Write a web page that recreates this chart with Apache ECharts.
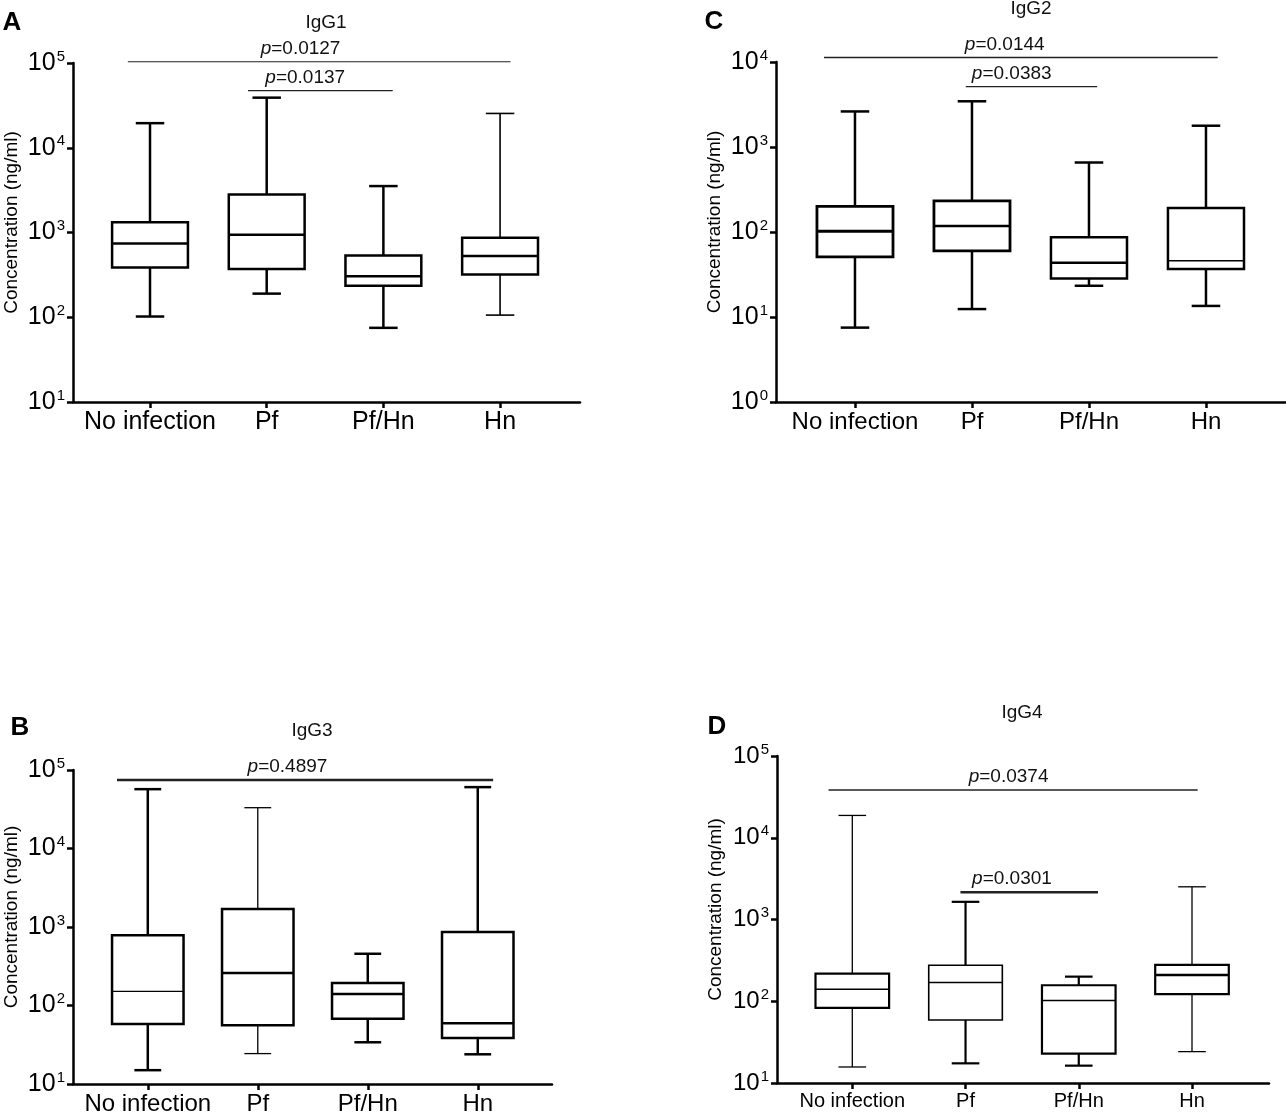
<!DOCTYPE html>
<html>
<head>
<meta charset="utf-8">
<script src="https://cdn.jsdelivr.net/npm/echarts@6/dist/echarts.min.js"></script>
<style>
  html, body { margin: 0; padding: 0; background: #fff; }
  #chart { width: 1286px; height: 1116px; }
</style>
</head>
<body>
<div id="chart"></div>
<script>
var categories = ['No infection', 'Pf', 'Pf/Hn', 'Hn'];
var catTicks = [0, 1, 2, 3];

// one row per group: [min, Q1, median, Q3, max]
var igg1Box = [
  [102, 386, 740, 1320, 19500],
  [190, 370, 940, 2800, 39000],
  [75, 236, 305, 537, 3530],
  [106, 319, 527, 865, 25400]
];
var igg2Box = [
  [7.5, 51, 102, 200, 2620],
  [12.4, 60, 118, 232, 3450],
  [23.3, 28.4, 43.6, 87, 657],
  [13.5, 36.7, 46, 191, 1780]
];
var igg3Box = [
  [15, 58, 151, 785, 57000],
  [24.4, 56, 260, 1690, 33100],
  [34, 68, 140, 194, 456],
  [23.9, 38.5, 59.6, 865, 60500]
];
var igg4Box = [
  [15.7, 82.8, 140, 218, 18750],
  [17.4, 59, 169, 276, 1645],
  [16.3, 22.9, 102, 157, 200],
  [24.2, 122, 210, 279, 2512]
];

// significance brackets: [from group, to group, height (ng/ml), label centre]
var igg1Sig = [[-0.19, 3.09, 103500, 1.29], [0.84, 2.08, 47100, 1.33]];
var igg1P = ['0.0127', '0.0137'];
var igg2Sig = [[-0.265, 3.1, 11300, 1.28], [0.947, 2.07, 5120, 1.34]];
var igg2P = ['0.0144', '0.0383'];
var igg3Sig = [[-0.28, 3.14, 74800, 1.27]];
var igg3P = ['0.4897'];
var igg4Sig = [[-0.21, 3.05, 38400, 1.38], [0.955, 2.17, 2160, 1.41]];
var igg4P = ['0.0374', '0.0301'];

var FONT = '"Liberation Sans", Arial, Helvetica, sans-serif';

// line widths: [box, median, whiskers]
var panels = [
  { title: 'IgG1', letter: 'A', box: igg1Box, sig: igg1Sig, p: igg1P,
    yMin: 10, yMax: 1e5, grid: { left: 73, top: 63, width: 507, height: 339 },
    xMin: -0.66, xMax: 3.685, catSize: 25, tickSize: 25,
    titlePos: [326, 23], letterPos: [12, 23],
    widths: [[2.5, 2.5, 2.5], [2.5, 2.5, 2.5], [2.5, 2.5, 2.5], [2.5, 2.5, 1.6]],
    sigWidths: [1.2, 1.2] },
  { title: 'IgG2', letter: 'C', box: igg2Box, sig: igg2Sig, p: igg2P,
    yMin: 1, yMax: 1e4, grid: { left: 776, top: 62, width: 510, height: 340 },
    xMin: -0.675, xMax: 3.684, catSize: 24, tickSize: 25,
    titlePos: [1031, 9], letterPos: [714, 22],
    widths: [[2.8, 2.8, 2.5], [2.8, 2.5, 2.5], [2.5, 2.5, 2.5], [2.5, 1.5, 2.5]],
    sigWidths: [1.3, 1.3] },
  { title: 'IgG3', letter: 'B', box: igg3Box, sig: igg3Sig, p: igg3P,
    yMin: 10, yMax: 1e5, grid: { left: 73, top: 770, width: 479, height: 318 },
    xMin: -0.68, xMax: 3.675, catSize: 24, tickSize: 25,
    titlePos: [312, 731], letterPos: [20, 728],
    widths: [[2.5, 1.3, 2.5], [2.5, 2.5, 1.3], [2.5, 2.5, 2.5], [2.5, 2.5, 2.5]],
    sigWidths: [2.5] },
  { title: 'IgG4', letter: 'D', box: igg4Box, sig: igg4Sig, p: igg4P,
    yMin: 10, yMax: 1e5, grid: { left: 777, top: 756, width: 492, height: 327 },
    xMin: -0.665, xMax: 3.68, catSize: 20, tickSize: 24,
    titlePos: [1022, 713], letterPos: [717, 727],
    widths: [[2.2, 1.5, 1.3], [1.6, 1.5, 2.2], [2.2, 1.5, 2.2], [2.2, 2.5, 1.3]],
    sigWidths: [1.3, 2.5] }
];

function boxRenderer(widths) {
  return function (params, api) {
    var x = api.value(0);
    var w = widths[params.dataIndex];
    var yMin = api.coord([x, api.value(1)])[1];
    var yQ1 = api.coord([x, api.value(2)])[1];
    var yMed = api.coord([x, api.value(3)])[1];
    var yQ3 = api.coord([x, api.value(4)])[1];
    var yMax = api.coord([x, api.value(5)])[1];
    var cx = api.coord([x, api.value(3)])[0];
    var bl = api.coord([x - 0.325, api.value(3)])[0];
    var br = api.coord([x + 0.325, api.value(3)])[0];
    var cl = api.coord([x - 0.122, api.value(3)])[0];
    var cr = api.coord([x + 0.122, api.value(3)])[0];
    function seg(x1, y1, x2, y2, lw) {
      return { type: 'line', shape: { x1: x1, y1: y1, x2: x2, y2: y2 },
        style: { stroke: '#000', lineWidth: lw } };
    }
    return {
      type: 'group',
      children: [
        seg(cx, yQ3, cx, yMax, w[2]),
        seg(cl, yMax, cr, yMax, w[2]),
        seg(cx, yQ1, cx, yMin, w[2]),
        seg(cl, yMin, cr, yMin, w[2]),
        { type: 'rect', shape: { x: bl, y: yQ3, width: br - bl, height: yQ1 - yQ3 },
          style: { fill: '#fff', stroke: '#000', lineWidth: w[0] } },
        seg(bl, yMed, br, yMed, w[1])
      ]
    };
  };
}

function sigRenderer(labels, widths) {
  return function (params, api) {
    var p1 = api.coord([api.value(0), api.value(2)]);
    var p2 = api.coord([api.value(1), api.value(2)]);
    var tx = api.coord([api.value(3), api.value(2)])[0];
    return {
      type: 'group',
      children: [
        { type: 'line', shape: { x1: p1[0], y1: p1[1], x2: p2[0], y2: p2[1] },
          style: { stroke: '#222', lineWidth: widths[params.dataIndex] } },
        { type: 'text', x: tx, y: p1[1] - 13,
          style: { text: '{i|p}=' + labels[params.dataIndex], align: 'center',
            verticalAlign: 'middle', fontSize: 19, fontFamily: FONT, fill: '#111',
            rich: { i: { fontStyle: 'italic', fontSize: 19, fontFamily: FONT, fill: '#111' } } } }
      ]
    };
  };
}

var option = {
  backgroundColor: '#fff',
  animation: false,
  grid: [], xAxis: [], yAxis: [], series: [], graphic: []
};

panels.forEach(function (pn, i) {
  option.grid.push(pn.grid);
  option.xAxis.push({
    gridIndex: i, type: 'value', min: pn.xMin, max: pn.xMax,
    axisLine: { show: true, onZero: false, lineStyle: { color: '#000', width: 2.5 } },
    axisTick: { show: true, customValues: catTicks, length: 6, lineStyle: { color: '#000', width: 2.5 } },
    axisLabel: { customValues: catTicks, formatter: function (v) { return categories[Math.round(v)]; },
      fontSize: pn.catSize, color: '#000', fontFamily: FONT, margin: 8 },
    splitLine: { show: false }
  });
  option.yAxis.push({
    gridIndex: i, type: 'log', logBase: 10, min: pn.yMin, max: pn.yMax,
    axisLine: { show: true, onZero: false, lineStyle: { color: '#000', width: 2.5 } },
    axisTick: { show: true, length: 6, lineStyle: { color: '#000', width: 2.5 } },
    minorTick: { show: false },
    splitLine: { show: false },
    axisLabel: {
      margin: 8, color: '#000', fontFamily: FONT,
      formatter: function (v) {
        return '{b|10}{s|' + Math.round(Math.log10(v)) + '}';
      },
      rich: {
        b: { fontSize: pn.tickSize, fontFamily: FONT, color: '#000' },
        s: { fontSize: 15, fontFamily: FONT, color: '#000', padding: [0, 0, 13, 1] }
      }
    },
    name: 'Concentration (ng/ml)', nameLocation: 'middle', nameRotate: 90, nameGap: 52,
    nameTextStyle: { fontSize: 19, color: '#000', fontFamily: FONT, padding: [0, 0, 0, 20] }
  });
  option.series.push({
    type: 'custom', xAxisIndex: i, yAxisIndex: i, clip: false,
    renderItem: boxRenderer(pn.widths),
    encode: { x: 0, y: [1, 2, 3, 4, 5] },
    data: pn.box.map(function (d, k) { return [k].concat(d); })
  });
  option.series.push({
    type: 'custom', xAxisIndex: i, yAxisIndex: i, clip: false,
    renderItem: sigRenderer(pn.p, pn.sigWidths),
    encode: { x: [0, 1], y: 2 },
    data: pn.sig
  });
  option.graphic.push({
    type: 'text', x: pn.titlePos[0], y: pn.titlePos[1],
    style: { text: pn.title, align: 'center', verticalAlign: 'middle', fontSize: 19,
      fontFamily: FONT, fill: '#111' }
  });
  option.graphic.push({
    type: 'text', x: pn.letterPos[0], y: pn.letterPos[1],
    style: { text: pn.letter, align: 'center', verticalAlign: 'middle', fontSize: 26,
      fontWeight: 'bold', fontFamily: FONT, fill: '#000' }
  });
});

var chart = echarts.init(document.getElementById('chart'), null, { renderer: 'canvas' });
chart.setOption(option);
</script>
</body>
</html>
